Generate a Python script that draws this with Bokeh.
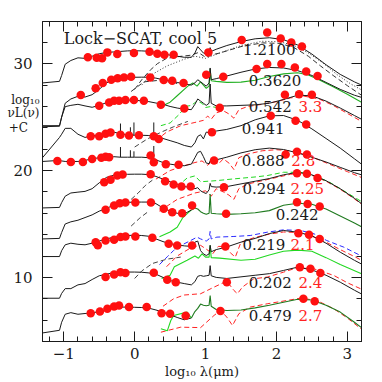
from bokeh.plotting import figure
from bokeh.models import (Range1d, LinearAxis, SingleIntervalTicker, FixedTicker,
                          CustomLabelingPolicy)
from bokeh.embed import file_html
from bokeh.resources import INLINE
from bokeh.core.properties import value

# ---------------- data (log10 lambda [um], log10 nuL(nu)+C) ----------------
LAM_OPT = [-1.3, -1.06, -1.03, -0.98, -0.9, -0.8, -0.7, -0.6, -0.5, -0.4, -0.3,
           -0.2, -0.1, 0.0, 0.1, 0.2, 0.3, 0.4, 0.5, 0.6, 0.7]
LAM_IR = [0.8, 0.85, 0.89, 0.93, 0.97, 1.01, 1.05, 1.065, 1.08, 1.15, 1.3, 1.5,
          1.7, 1.9, 2.1, 2.3, 2.5, 2.7, 2.9, 3.1, 3.2]

opt1 = [28.2, 28.35, 28.9, 29.95, 30.3, 30.55, 30.5, 30.7, 30.93, 31.05, 31.1, 31.15, 31.2, 31.21, 31.2, 31.16, 31.05, 30.92, 30.8, 30.7, 30.6]
ir1 = [30.6, 31.0, 31.6, 31.3, 31.0, 30.9, 31.1, 31.5, 31.15, 31.35, 31.7, 32.07, 32.33, 32.43, 32.25, 31.75, 30.9, 29.9, 29.0, 28.3, 28.0]
opt2 = [24.1, 24.15, 25.0, 26.3, 26.7, 26.95, 26.88, 27.1, 27.6, 28.2, 28.5, 28.62, 28.7, 28.73, 28.74, 28.73, 28.65, 28.5, 28.4, 28.25, 28.1]
ir2 = [28.0, 28.2, 28.5, 28.3, 28.1, 27.9, 28.2, 29.6, 28.5, 28.6, 28.85, 29.2, 29.5, 29.65, 29.6, 29.35, 28.9, 28.25, 27.6, 27.05, 26.85]
opt3 = [24.2, 24.2, 25.0, 25.98, 26.1, 26.2, 26.05, 25.92, 26.1, 26.35, 26.55, 26.6, 26.6, 26.58, 26.52, 26.45, 26.32, 26.2, 26.0, 25.85, 25.75]
ir3 = [25.7, 26.2, 26.7, 26.5, 26.3, 26.1, 26.3, 28.1, 26.3, 26.05, 26.05, 26.1, 26.15, 26.3, 26.65, 27.05, 27.0, 26.5, 25.85, 25.15, 24.8]
opt4 = [21.2, 23.1, 23.4, 23.95, 23.95, 23.4, 23.1, 23.25, 23.35, 23.55, 23.6, 23.45, 23.35, 23.3, 23.3, 23.28, 23.15, 23.0, 22.8, 22.6, 22.35]
ir4 = [22.2, 22.6, 23.2, 23.35, 22.96, 23.6, 23.55, 23.9, 23.58, 23.7, 23.85, 24.2, 24.75, 25.12, 25.15, 24.7, 23.9, 23.0, 22.1, 21.1, 20.6]
opt5 = [20.85, 20.95, 20.9, 20.85, 20.85, 20.85, 20.95, 21.1, 21.2, 21.3, 21.3, 21.25, 21.25, 21.25, 21.25, 21.2, 21.0, 20.75, 20.6, 20.5, 20.45]
ir5 = [20.6, 21.2, 21.7, 21.8, 21.3, 20.7, 20.65, 20.9, 20.8, 21.0, 21.25, 21.65, 21.95, 22.1, 21.97, 21.65, 21.25, 20.8, 20.3, 19.8, 19.6]
opt6 = [16.5, 16.55, 17.0, 17.6, 17.9, 17.98, 18.05, 18.3, 18.85, 19.35, 19.55, 19.62, 19.65, 19.66, 19.66, 19.62, 19.45, 19.2, 18.95, 18.72, 18.5]
ir6 = [18.4, 18.3, 18.4, 18.1, 17.95, 17.85, 18.2, 18.8, 18.5, 18.45, 18.5, 18.75, 19.0, 19.25, 19.6, 19.84, 19.6, 19.05, 18.3, 17.4, 16.9]
opt7 = [13.6, 13.65, 14.2, 15.0, 15.2, 15.35, 15.6, 15.85, 16.2, 16.45, 16.75, 16.95, 17.02, 17.05, 17.05, 17.05, 16.9, 16.5, 16.2, 16.0, 15.95]
ir7 = [16.3, 16.5, 16.4, 16.15, 16.0, 15.9, 16.0, 17.8, 16.0, 15.95, 15.9, 15.95, 16.05, 16.25, 16.75, 16.94, 16.85, 16.4, 15.75, 15.1, 14.75]
opt8 = [11.95, 11.95, 12.5, 13.05, 13.2, 13.1, 13.05, 13.2, 13.4, 13.6, 13.75, 13.85, 13.92, 13.95, 13.92, 13.85, 13.6, 13.35, 13.15, 13.05, 12.95]
ir8 = [12.9, 13.3, 13.4, 12.5, 12.2, 12.05, 12.2, 13.0, 12.4, 12.6, 12.85, 13.3, 13.65, 14.1, 14.39, 14.23, 13.9, 13.2, 12.36, 11.6, 11.25]
opt9 = [8.05, 8.05, 8.5, 8.95, 8.95, 9.3, 9.42, 9.8, 10.15, 10.3, 10.43, 10.5, 10.5, 10.5, 10.48, 10.42, 10.3, 10.0, 9.7, 9.55, 9.42]
ir9 = [9.3, 9.6, 10.1, 10.18, 10.1, 10.15, 10.2, 11.1, 10.15, 10.0, 9.9, 10.05, 10.2, 10.35, 10.65, 10.96, 10.7, 10.2, 9.55, 8.8, 8.45]
opt10 = [4.8, 5.05, 5.8, 6.55, 6.7, 6.55, 6.62, 6.68, 6.8, 6.98, 7.15, 7.22, 7.22, 7.2, 7.18, 7.12, 6.95, 6.75, 6.5, 6.25, 6.03]
ir10 = [6.2, 6.8, 7.1, 7.5, 7.4, 7.35, 7.4, 8.3, 7.3, 7.0, 6.9, 6.95, 7.15, 7.4, 7.68, 7.95, 7.88, 7.4, 6.75, 5.8, 5.3]

# photometric points
dx1 = [-0.66, -0.535, -0.46, -0.385, -0.245, -0.01, 0.21, 0.32, 0.42, 0.55, 1.04, 1.51, 1.87, 2.06, 2.21, 2.36]
dy1 = [30.61, 30.56, 30.5, 31.06, 30.91, 31.0, 31.12, 30.93, 30.84, 30.84, 31.06, 32.21, 32.93, 32.36, 31.99, 31.62]
dx2 = [-0.76, -0.55, -0.45, -0.33, -0.24, -0.15, -0.05, 0.22, 0.41, 0.53, 0.69, 1.01, 1.25, 1.72, 1.87, 2.07, 2.26, 2.42, 2.58]
dy2 = [27.07, 27.7, 28.2, 28.5, 28.64, 28.72, 28.78, 28.72, 28.48, 28.41, 28.2, 28.97, 28.78, 29.5, 29.97, 29.97, 29.65, 29.28, 28.85]
dx3 = [-0.5, -0.36, -0.29, -0.22, -0.13, -0.01, 0.13, 0.37, 0.7, 1.2, 2.12, 2.32, 2.5]
dy3 = [26.07, 26.38, 26.54, 26.54, 26.6, 26.6, 26.54, 26.17, 25.8, 25.87, 27.1, 27.15, 27.1]
dx4 = [-0.62, -0.5, -0.41, -0.34, -0.2, -0.08, 0.06, 0.27, 0.34, 1.09, 1.92, 2.27, 2.42]
dy4 = [23.2, 23.22, 23.45, 23.55, 23.35, 23.27, 23.3, 23.2, 22.96, 23.58, 25.14, 24.67, 24.3]
dx5 = [-1.09, -0.9, -0.73, -0.6, -0.47, -0.41, -0.36, 0.225, 0.27, 0.44, 0.62, 1.12, 2.13, 2.29, 2.43]
dy5 = [20.9, 20.8, 20.8, 21.09, 21.2, 21.3, 21.24, 21.4, 20.77, 20.58, 20.55, 20.93, 21.5, 21.76, 21.5]
dx6 = [-0.43, -0.34, -0.245, -0.17, 0.225, 0.43, 0.55, 0.66, 0.79, 1.26, 2.29, 2.43, 2.58]
dy6 = [18.9, 19.15, 19.53, 19.62, 19.65, 19.0, 18.7, 18.5, 18.5, 18.44, 19.75, 19.69, 19.3]
dx7 = [-0.41, -0.29, -0.21, -0.13, 0.01, 0.23, 0.41, 0.53, 0.67, 0.81, 1.29, 2.29, 2.44, 2.61]
dy7 = [16.33, 16.72, 16.94, 17.0, 17.0, 17.0, 16.42, 16.1, 16.0, 16.72, 15.95, 17.03, 16.88, 16.63]
dx8 = [-0.55, -0.52, -0.41, -0.29, -0.2, -0.13, 0.01, 0.25, 0.48, 0.6, 0.81, 1.28, 2.31, 2.46, 2.61]
dy8 = [13.3, 13.0, 13.45, 13.52, 13.77, 13.83, 13.83, 13.7, 13.14, 12.98, 12.98, 12.9, 14.13, 13.98, 13.6]
dx9 = [-0.41, -0.29, -0.2, -0.13, 0.27, 0.46, 0.58, 1.3, 2.33, 2.48, 2.62]
dy9 = [10.03, 10.28, 10.49, 10.4, 10.43, 9.78, 9.55, 9.55, 10.96, 10.8, 10.4]
dx10 = [-0.62, -0.49, -0.385, -0.29, -0.22, -0.08, 0.17, 0.38, 0.5, 0.72, 1.21, 2.38, 2.54]
dy10 = [6.65, 6.81, 7.06, 7.28, 7.37, 7.22, 7.22, 6.65, 6.59, 6.4, 6.85, 7.99, 7.77]

# model components
c1_dash_x = [0.0, 0.1, 0.22, 0.32, 0.45, 0.6, 0.8, 0.9, 1.0, 1.1, 1.2, 1.5, 1.8, 2.05, 2.25, 2.45, 2.62, 2.8, 3.0, 3.2]
c1_dash_y = [27.6, 28.5, 29.4, 30.0, 30.5, 30.65, 30.8, 31.05, 30.6, 30.85, 31.0, 31.6, 31.95, 31.9, 31.5, 30.7, 29.8, 28.9, 27.95, 27.05]
c1_dot_x = [0.1, 0.22, 0.46, 0.69, 0.85, 1.0, 1.2, 1.5, 1.8, 2.05, 2.25, 2.45, 2.65, 2.85, 3.05, 3.2]
c1_dot_y = [28.0, 28.9, 29.8, 30.4, 30.7, 30.5, 31.0, 31.7, 32.1, 32.05, 31.7, 31.0, 30.1, 29.0, 28.1, 27.55]
c2_dash_x = [-0.05, 0.13, 0.35, 0.6]
c2_dash_y = [27.4, 28.3, 28.45, 28.15]
c2_green_x = [0.37, 0.5, 0.6, 0.75, 0.82, 0.88, 0.93, 0.97, 1.01, 1.05, 1.065, 1.08, 1.15, 1.3, 1.5, 1.7, 1.9, 2.1, 2.3, 2.45, 2.6, 2.8, 3.0, 3.2]
c2_green_y = [26.0, 26.4, 27.0, 27.9, 28.2, 27.9, 28.3, 28.0, 27.7, 27.9, 29.5, 28.4, 28.35, 28.25, 28.28, 28.45, 28.8, 29.05, 29.15, 28.95, 28.5, 27.85, 27.15, 26.4]
c3_red_x = [0.3, 0.45, 0.65, 0.85, 0.97, 1.03, 1.08, 1.15, 1.25, 1.33, 1.4, 1.47, 1.6, 1.8, 2.0, 2.2, 2.4, 2.6, 2.8, 3.0, 3.2]
c3_red_y = [22.8, 23.6, 24.2, 24.5, 24.7, 25.1, 24.8, 25.4, 25.6, 25.3, 24.9, 25.7, 26.0, 26.2, 26.45, 26.8, 26.95, 26.7, 26.1, 25.35, 24.6]
c3_gdash_x = [0.37, 0.5, 0.62, 0.72, 0.8, 0.88, 0.95, 1.0, 1.08, 1.15]
c3_gdash_y = [24.2, 24.45, 25.2, 26.0, 26.1, 26.5, 26.3, 25.9, 26.0, 25.9]
c3_dash_x = [0.0, 0.18, 0.37, 0.55, 0.75]
c3_dash_y = [22.2, 22.96, 23.58, 24.1, 24.6]
c5_red_x = [0.3, 0.5, 0.7, 0.85, 0.95, 1.03, 1.1, 1.18, 1.25, 1.33, 1.4, 1.47, 1.6, 1.8, 2.0, 2.2, 2.4, 2.6, 2.8, 3.0, 3.2]
c5_red_y = [19.2, 20.0, 20.45, 20.75, 20.9, 20.5, 20.9, 20.6, 21.1, 20.7, 20.1, 21.2, 21.55, 21.85, 21.95, 21.85, 21.5, 21.0, 20.45, 19.9, 19.35]
c5_gdash_x = [0.6, 0.74, 0.85, 0.93, 1.16, 1.4, 1.7, 1.87, 2.1, 2.34, 2.53, 2.75, 2.95, 3.2]
c5_gdash_y = [18.5, 19.3, 19.5, 18.95, 19.06, 19.22, 19.4, 19.53, 19.84, 19.84, 19.53, 18.9, 18.1, 17.1]
c6_red_x = [0.35, 0.6, 0.85, 1.0, 1.08, 1.15, 1.25, 1.33, 1.4, 1.47, 1.6, 1.8, 2.0, 2.2, 2.35, 2.5, 2.7, 2.9, 3.1, 3.2]
c6_red_y = [16.2, 17.3, 17.9, 18.1, 17.6, 18.3, 18.0, 17.7, 17.3, 18.3, 18.75, 19.05, 19.35, 19.65, 19.75, 19.55, 19.0, 18.25, 17.35, 16.85]
c6_dash_x = [-0.05, 0.05, 0.15, 0.25]
c6_dash_y = [17.3, 17.9, 18.6, 19.1]
c7_green_x = [0.35, 0.5, 0.6, 0.68, 0.78, 0.8]
c7_green_y = [13.8, 14.25, 14.7, 15.6, 16.2, 16.3]
c7_dash_x = [-0.05, 0.08, 0.2]
c7_dash_y = [14.8, 15.6, 16.2]
c8_blue_x = [0.35, 0.46, 0.55, 0.65, 0.79, 0.88, 0.93, 0.97, 1.01, 1.05, 1.065, 1.08, 1.16, 1.4, 1.63, 1.87, 2.1, 2.34, 2.53, 2.71, 2.95, 3.2]
c8_blue_y = [11.2, 11.93, 12.52, 12.98, 13.45, 13.77, 13.6, 13.5, 13.4, 13.6, 14.3, 13.6, 13.77, 13.83, 13.92, 14.23, 14.45, 14.39, 14.08, 13.45, 12.83, 12.0]
c8_red_x = [0.45, 0.6, 0.8, 0.93, 1.02, 1.1, 1.18, 1.28, 1.35, 1.42, 1.5, 1.7, 1.9, 2.1, 2.3, 2.5, 2.7, 2.9, 3.1, 3.2]
c8_red_y = [11.0, 12.0, 12.8, 13.0, 12.6, 12.2, 12.9, 12.9, 12.3, 11.9, 13.3, 13.75, 14.05, 14.25, 14.2, 13.85, 13.3, 12.6, 11.95, 11.6]
c8_green_x = [0.38, 0.5, 0.56, 0.74, 0.85, 0.9, 0.95, 1.0, 1.05, 1.065, 1.08, 1.2, 1.5, 1.7, 1.9, 2.1, 2.3, 2.5, 2.7, 2.9, 3.2]
c8_green_y = [9.9, 10.2, 11.0, 11.6, 12.0, 11.8, 12.2, 11.9, 11.9, 13.0, 11.85, 11.8, 11.6, 11.7, 12.1, 12.45, 12.55, 12.45, 11.85, 11.2, 10.35]
c8_dash_x = [0.0, 0.1, 0.25, 0.45, 0.65]
c8_dash_y = [9.9, 10.6, 11.3, 11.7, 11.9]
c9_red_x = [0.4, 0.55, 0.7, 0.93, 1.12, 1.3, 1.4, 1.45, 1.52, 1.68, 1.87, 2.1, 2.29, 2.53, 2.81, 3.0, 3.2]
c9_red_y = [7.3, 8.0, 8.35, 8.47, 9.09, 9.65, 8.78, 8.47, 9.09, 9.87, 10.03, 10.49, 10.9, 10.8, 10.18, 9.5, 8.9]
c10_red_x = [0.37, 0.65, 0.93, 1.12, 1.21, 1.3, 1.38, 1.47, 1.63, 1.87, 2.15, 2.34, 2.57, 2.81, 3.0, 3.2]
c10_red_y = [4.87, 5.34, 5.3, 6.44, 6.91, 6.28, 5.5, 6.6, 7.22, 7.53, 7.84, 8.06, 7.84, 7.06, 6.2, 5.15]
c10_green_x = [0.37, 0.46, 0.51, 0.55, 0.74, 0.8]
c10_green_y = [5.2, 5.0, 5.97, 6.44, 6.75, 6.2]

# narrow emission lines in the optical models
spike_x = [-0.2, -0.06, -0.01, 0.27]
spike4_base = [23.45, 23.3, 23.3, 23.15]
spike4_top = [24.4, 24.05, 24.5, 24.5]
spike5_base = [21.25, 21.25, 21.25, 21.0]
spike5_top = [22.2, 21.9, 21.8, 22.3]

# labels
lab_x = [1.53, 1.61, 1.61, 1.51, 1.51, 1.52, 1.99, 1.52, 1.61, 1.61]
lab_y = [31.31, 28.41, 25.98, 23.97, 20.93, 18.36, 15.88, 13.12, 9.48, 6.44]
lab_black = ["1.2100", "0.3620", "0.542", "0.941", "0.888", "0.294", "0.242", "0.219", "0.202", "0.479"]
lab_red = ["", "", "3.3", "", "2.8", "2.25", "", "2.1", "2.4", "2.7"]
lab_red_x = [0, 0, 2.31, 0, 2.21, 2.2, 0, 2.2, 2.31, 2.31]
title_text = "Lock\u2212SCAT, cool 5"
ylabel_pos = [26.63, 25.37, 23.97]
ylabel_txt = ["log\u2081\u2080", "\u03bdL(\u03bd)", "+C\u00a0\u00a0\u00a0"]
xlabel_txt = "log\u2081\u2080 \u03bb(\u03bcm)"

# ---------------- figure ----------------
FONT = "DejaVu Serif"
INK = "#1a1a1a"
RED = "#ff2222"
GREEN = "#22d822"
DKGREEN = "#1f7a1f"
BLUE = "#2a2aff"

p = figure(width=382, height=382, x_range=Range1d(-1.3, 3.2), y_range=Range1d(4.0, 33.95),
           output_backend="svg", toolbar_location=None,
           min_border_left=42, min_border_right=21, min_border_top=21, min_border_bottom=41)
p.outline_line_color = INK
p.grid.visible = False
p.background_fill_color = "white"
p.border_fill_color = "white"

bottom = p.below[0]
left = p.left[0]
bottom.ticker = SingleIntervalTicker(interval=1, num_minor_ticks=5)
left.ticker = SingleIntervalTicker(interval=10, num_minor_ticks=5)
bottom.major_label_overrides = {-1: "\u22121"}

nolabels = CustomLabelingPolicy(code="for (let i = 0; i < indices.size; i++) { indices.unset(i) } return indices")
right = LinearAxis(ticker=SingleIntervalTicker(interval=10, num_minor_ticks=5))
top = LinearAxis(ticker=SingleIntervalTicker(interval=1, num_minor_ticks=5))
p.add_layout(right, "right")
p.add_layout(top, "above")
for ax in (bottom, left, right, top):
    ax.major_tick_in = 10
    ax.major_tick_out = 0
    ax.minor_tick_in = 5
    ax.minor_tick_out = 0
    ax.axis_line_color = INK
    ax.major_tick_line_color = INK
    ax.minor_tick_line_color = INK
    ax.major_label_text_font = FONT
    ax.major_label_text_color = INK
for ax in (right, top):
    ax.major_label_policy = nolabels
    ax.major_label_text_font_size = "1px"
    ax.major_label_standoff = 0
left.major_label_text_font_size = "15px"
bottom.major_label_text_font_size = "15px"
left.major_label_standoff = 10
bottom.major_label_standoff = 6
bottom.axis_label = xlabel_txt
bottom.axis_label_text_font = FONT
bottom.axis_label_text_font_size = "13px"
bottom.axis_label_text_font_style = "normal"
bottom.axis_label_text_color = INK
bottom.axis_label_standoff = 2

# y-axis caption, written horizontally as labels of a bare axis
ycap = LinearAxis(ticker=FixedTicker(ticks=ylabel_pos, minor_ticks=[]),
                  major_label_overrides=dict(zip(ylabel_pos, ylabel_txt)),
                  major_tick_in=0, major_tick_out=0, minor_tick_in=0, minor_tick_out=0,
                  axis_line_color=None, major_label_standoff=-29,
                  major_label_text_font=FONT, major_label_text_font_size="12px",
                  major_label_text_color=INK)
p.add_layout(ycap, "left")

# components
def dline(x, y, color, dash, w=1.0):
    p.line(x, y, line_color=color, line_width=w, line_dash=dash)

dline(c1_dash_x, c1_dash_y, "#333333", "5 3")
dline(c1_dot_x, c1_dot_y, "#333333", "1 2")
dline(c2_dash_x, c2_dash_y, "#333333", "5 3")
dline(c3_dash_x, c3_dash_y, "#444444", "5 3")
dline(c6_dash_x, c6_dash_y, "#444444", "5 3")
dline(c7_dash_x, c7_dash_y, "#444444", "5 3")
dline(c8_dash_x, c8_dash_y, "#444444", "5 3")
dline(c3_red_x, c3_red_y, RED, "5 3")
dline(c5_red_x, c5_red_y, RED, "5 3")
dline(c6_red_x, c6_red_y, RED, "5 3")
dline(c8_red_x, c8_red_y, RED, "5 3")
dline(c9_red_x, c9_red_y, RED, "5 3")
dline(c10_red_x, c10_red_y, RED, "5 3")
dline(c8_blue_x, c8_blue_y, BLUE, "5 3")
dline(c3_gdash_x, c3_gdash_y, GREEN, "5 3")
dline(c5_gdash_x, c5_gdash_y, GREEN, "5 3")
p.line(c2_green_x, c2_green_y, line_color="#22b022", line_width=1.1)
p.line(c7_green_x, c7_green_y, line_color=GREEN, line_width=1.1)
p.line(c8_green_x, c8_green_y, line_color=GREEN, line_width=1.1)
p.line(c10_green_x, c10_green_y, line_color=GREEN, line_width=1.1)

# total models
opts = [opt1, opt2, opt3, opt4, opt5, opt6, opt7, opt8, opt9, opt10]
irs = [ir1, ir2, ir3, ir4, ir5, ir6, ir7, ir8, ir9, ir10]
for i, (o, r) in enumerate(zip(opts, irs)):
    if i in (6, 9):
        p.line(LAM_OPT + LAM_IR[:1], o + r[:1], line_color=INK, line_width=1)
        p.line(LAM_IR, r, line_color=DKGREEN, line_width=1.1)
    else:
        p.line(LAM_OPT + LAM_IR, o + r, line_color=INK, line_width=1)

p.segment(spike_x, spike4_base, spike_x, spike4_top, line_color=INK, line_width=1)
p.segment(spike_x, spike5_base, spike_x, spike5_top, line_color=INK, line_width=1)

# photometry
for dx, dy in [(dx1, dy1), (dx2, dy2), (dx3, dy3), (dx4, dy4), (dx5, dy5),
               (dx6, dy6), (dx7, dy7), (dx8, dy8), (dx9, dy9), (dx10, dy10)]:
    p.scatter(dx, dy, size=8.5, fill_color="#ff1010", line_color=None)

# labels
p.text(lab_x, lab_y, text=lab_black, text_font=value(FONT), text_font_size="15px",
       text_color=INK, text_baseline="middle", text_align="left")
rx = [x for x, t in zip(lab_red_x, lab_red) if t]
ry = [y for y, t in zip(lab_y, lab_red) if t]
rt = [t for t in lab_red if t]
p.text(rx, ry, text=rt, text_font=value(FONT), text_font_size="15px",
       text_color=RED, text_baseline="middle", text_align="left")
p.text([-1.0], [32.34], text=[title_text], text_font=value(FONT), text_font_size="16px",
       text_color=INK, text_baseline="middle", text_align="left")

open("out.html", "w").write(file_html(p, INLINE))
